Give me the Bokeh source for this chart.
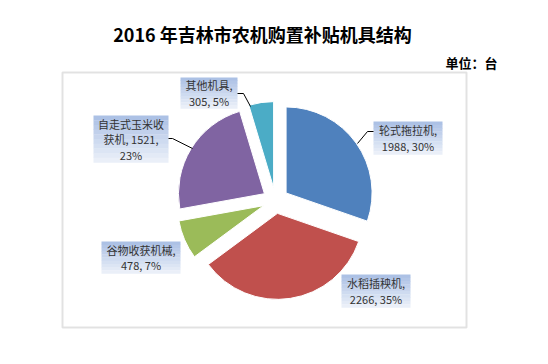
import numpy as np
from bokeh.plotting import figure
from bokeh.models import Range1d, Label, BoxAnnotation
from bokeh.core.properties import value
from bokeh.embed import file_html
from bokeh.resources import INLINE

# ---- data ----
names = ["轮式拖拉机", "水稻插秧机", "谷物收获机械", "自走式玉米收获机", "其他机具"]
counts = [1988, 2266, 478, 1521, 305]
colors = ["#4f81bd", "#c0504d", "#9bbb59", "#8064a2", "#4bacc6"]
title_text = "2016 年吉林市农机购置补贴机具结构"
unit_text = "单位：台"

FONT = "Noto Sans CJK SC"
H = 364  # page height, used to flip screen y into data y


def Y(ys):
    return H - ys


p = figure(width=532, height=348, x_range=Range1d(0, 532), y_range=Range1d(16, 364),
           output_backend="svg", toolbar_location=None, min_border=0,
           background_fill_color="white", border_fill_color="white")
p.outline_line_color = None
p.axis.visible = False
p.grid.visible = False

# chart frame
p.add_layout(BoxAnnotation(left=62, right=466, top=Y(72), bottom=Y(327),
                           fill_alpha=0, line_color="#a0a0a0", line_width=2))

# ---- pie ----
vals = np.array(counts, dtype=float)
frac = vals / vals.sum()
pct = [int(round(f * 100)) for f in frac]
cum = np.concatenate([[0], np.cumsum(frac)]) * 2 * np.pi  # clockwise from 12 o'clock
cx, cy = 275, Y(200)
R = 86
EXP = 13
starts, ends, xs, ys = [], [], [], []
for i in range(len(vals)):
    t0, t1 = cum[i], cum[i + 1]
    mid = (t0 + t1) / 2
    xs.append(cx + EXP * np.sin(mid))
    ys.append(cy + EXP * np.cos(mid))
    starts.append(np.pi / 2 - t1)
    ends.append(np.pi / 2 - t0)
p.wedge(x=xs, y=ys, radius=R, start_angle=starts, end_angle=ends,
        fill_color=colors, line_color="white", line_width=1)

# ---- data labels ----
label_lines = [
    [f"{names[0]},", f"{counts[0]}, {pct[0]}%"],
    [f"{names[1]},", f"{counts[1]}, {pct[1]}%"],
    [f"{names[2]},", f"{counts[2]}, {pct[2]}%"],
    [names[3][:6], f"{names[3][6:]}, {counts[3]},", f"{pct[3]}%"],
    [f"{names[4]},", f"{counts[4]}, {pct[4]}%"],
]
# label boxes (left, top, right, bottom) in screen px
boxes = [
    (373, 121, 442, 154),
    (341, 274, 410, 307),
    (101, 241, 180, 273),
    (93, 115, 168, 162),
    (180, 77, 237, 108),
]
top_c = np.array([0xa9, 0xbf, 0xe4])
bot_c = np.array([0xee, 0xf2, 0xfa])
NB = 10
ql, qr, qt, qb, qc = [], [], [], [], []
for (l, t, r, b) in boxes:
    h = (b - t) / NB
    for k in range(NB):
        c = top_c + (bot_c - top_c) * (k + 0.5) / NB
        ql.append(l); qr.append(r)
        qt.append(Y(t + k * h)); qb.append(Y(t + (k + 1) * h) - 0.3)
        qc.append("#%02x%02x%02x" % tuple(int(v) for v in c))
p.quad(left=ql, right=qr, top=qt, bottom=qb, fill_color=qc, line_color=None)

tx, ty, tt = [], [], []
LH = 15.5
for lines, (l, t, r, b) in zip(label_lines, boxes):
    n = len(lines)
    mc = (t + b) / 2
    for k, s in enumerate(lines):
        tx.append((l + r) / 2)
        ty.append(Y(mc + (k - (n - 1) / 2) * LH))
        tt.append(s)
p.text(x=tx, y=ty, text=tt, text_font=value(FONT), text_font_size="11px",
       text_color="#333333", text_align="center", text_baseline="middle")

# leader lines
leaders = [
    ([357, 367, 373], [143, 131, 131]),
    ([168, 172, 192], [138, 138, 148]),
    ([237, 243, 250], [93, 93, 106]),
]
for lx, ly in leaders:
    p.line(x=lx, y=[Y(v) for v in ly], line_color="black", line_width=1)

# titles
p.add_layout(Label(x=262, y=Y(33), text=title_text, text_font=FONT, text_font_size="18px",
                   text_font_style="bold", text_align="center", text_baseline="middle",
                   text_color="black"))
p.add_layout(Label(x=497, y=Y(62), text=unit_text, text_font=FONT, text_font_size="13px",
                   text_font_style="bold", text_align="right", text_baseline="middle",
                   text_color="black"))

open("out.html", "w").write(file_html(p, INLINE))
